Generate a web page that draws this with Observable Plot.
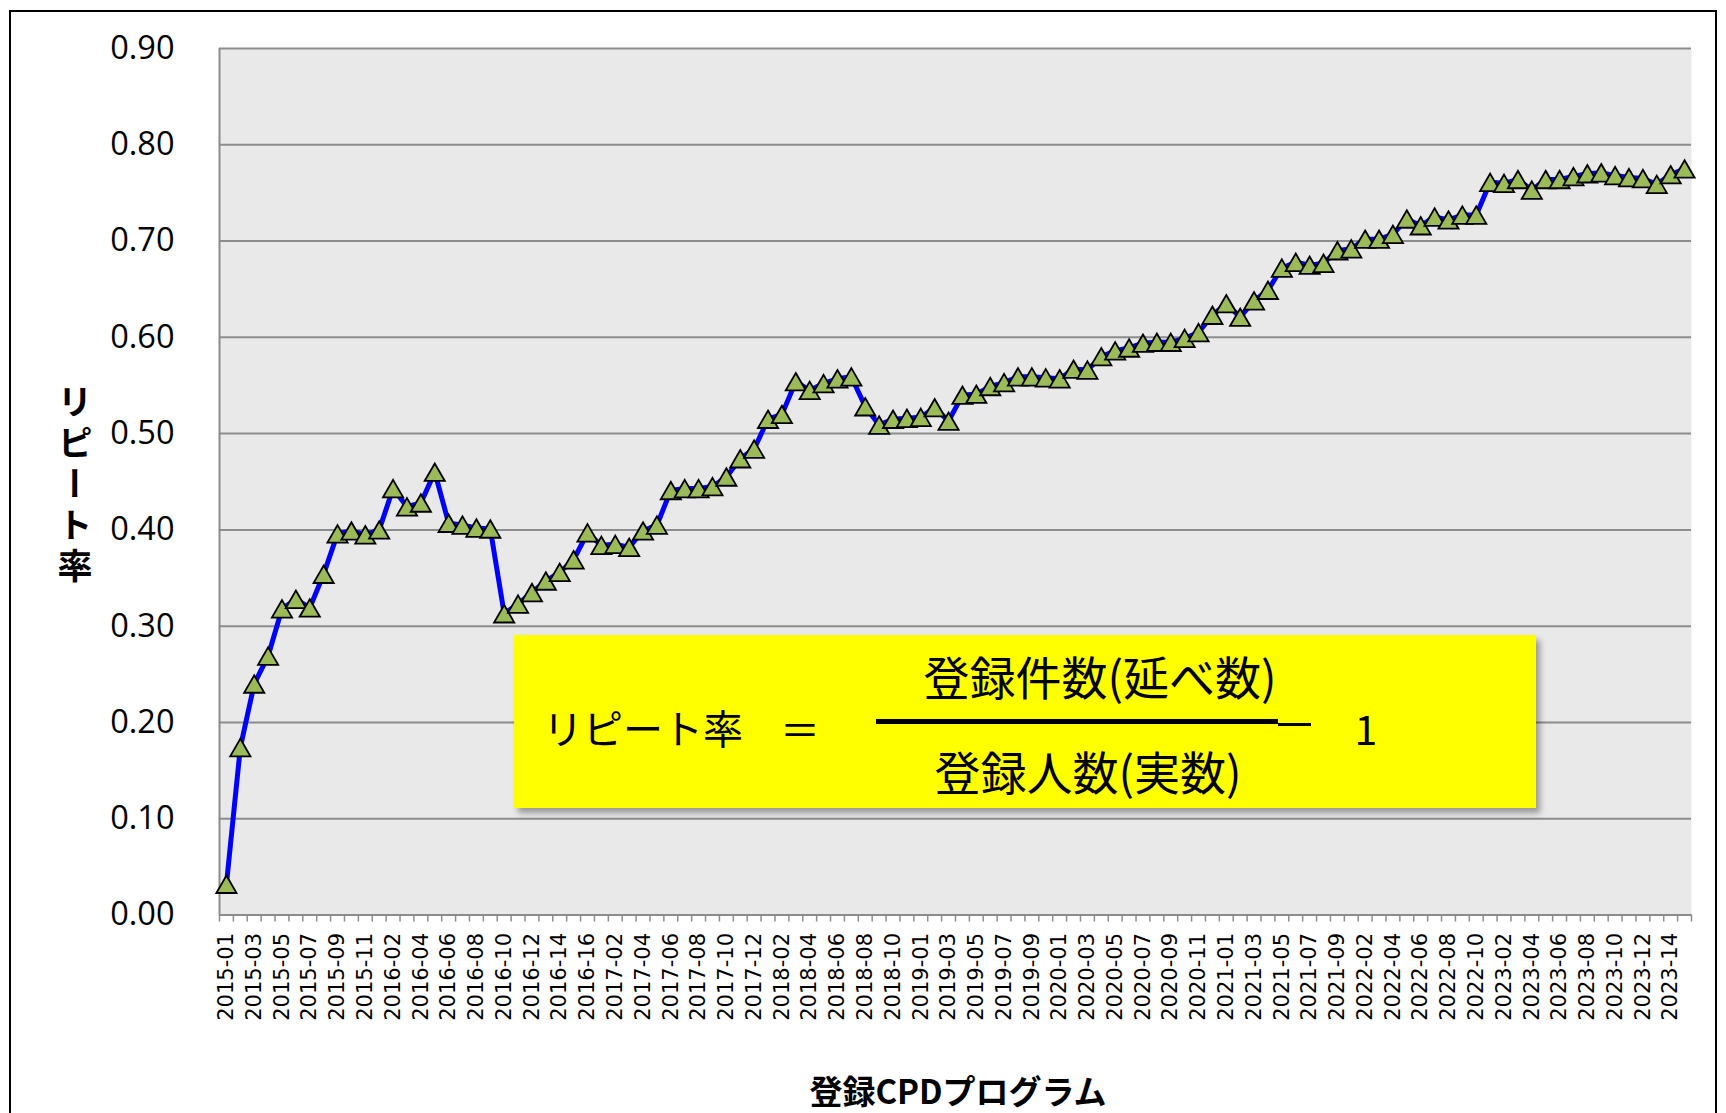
<!DOCTYPE html>
<html>
<head>
<meta charset="utf-8">
<script src="https://cdn.jsdelivr.net/npm/d3@7"></script>
<script src="https://cdn.jsdelivr.net/npm/@observablehq/plot@0.6"></script>
<style>
  html, body { margin: 0; padding: 0; background: #fff; overflow: hidden; }
  #page { position: relative; width: 1726px; height: 1113px; }
  #chart { position: absolute; left: 0; top: 0; }
  #border { position: absolute; left: 9px; top: 10px; width: 1708px; height: 1130px; border: 2px solid #000; box-sizing: border-box; }
  .t { position: absolute; transform: translate(-50%, -50%); white-space: nowrap; line-height: 1; color: #000; }
  #ytitle { position: absolute; left: 75px; top: 487px; transform: translate(-50%, -50%); writing-mode: vertical-rl; font-family: "Noto Sans CJK JP", sans-serif; font-weight: bold; font-size: 35px; letter-spacing: 6px; line-height: 1; }
  #xtitle { position: absolute; left: 958px; top: 1090px; transform: translate(-50%, -50%); font-family: "Noto Sans CJK JP", sans-serif; font-weight: bold; font-size: 33px; white-space: nowrap; line-height: 1; }
  #box { position: absolute; left: 514px; top: 635px; width: 1022px; height: 173px; background: #ffff00; box-shadow: 4px 5px 6px rgba(0,0,0,0.35); font-family: "Noto Sans CJK JP", sans-serif; }
  .bar { position: absolute; background: #000; }
</style>
</head>
<body>
<div id="page">
  <div id="border"></div>
  <div id="chart"></div>
  <div id="ytitle">リピート率</div>
  <div id="xtitle">登録CPDプログラム</div>
  <div id="box">
    <div class="t" style="left:129px; top:92px; font-size:40px;">リピート率</div>
    <div class="t" style="left:286px; top:93px; font-size:40px;">＝</div>
    <div class="bar" style="left:362px; top:84px; width:402px; height:5px;"></div>
    <div class="bar" style="left:764px; top:88px; width:33px; height:3px;"></div>
    <div class="t" style="left:852px; top:92px; font-size:41px;">1</div>
    <div class="t" style="left:586px; top:40px; font-size:46px;">登録件数(延べ数)</div>
    <div class="t" style="left:574px; top:135px; font-size:46px;">登録人数(実数)</div>
  </div>
</div>
<script>
// Categories (registered CPD programs)
const categories = [
  "2015-01","2015-02","2015-03","2015-04","2015-05","2015-06","2015-07","2015-08","2015-09","2015-10","2015-11",
  "2016-01","2016-02","2016-03","2016-04","2016-05","2016-06","2016-07","2016-08","2016-09","2016-10","2016-11","2016-12","2016-13","2016-14","2016-15","2016-16",
  "2017-01","2017-02","2017-03","2017-04","2017-05","2017-06","2017-07","2017-08","2017-09","2017-10","2017-11","2017-12",
  "2018-01","2018-02","2018-03","2018-04","2018-05","2018-06","2018-07","2018-08","2018-09","2018-10","2018-11",
  "2019-01","2019-02","2019-03","2019-04","2019-05","2019-06","2019-07","2019-08","2019-09","2019-10",
  "2020-01","2020-02","2020-03","2020-04","2020-05","2020-06","2020-07","2020-08","2020-09","2020-10","2020-11","2020-12",
  "2021-01","2021-02","2021-03","2021-04","2021-05","2021-06","2021-07","2021-08","2021-09",
  "2022-01","2022-02","2022-03","2022-04","2022-05","2022-06","2022-07","2022-08","2022-09","2022-10",
  "2023-01","2023-02","2023-03","2023-04","2023-05","2023-06","2023-07","2023-08","2023-09","2023-10","2023-11","2023-12","2023-13","2023-14","2023-15"
];

// Repeat rate values
const repeatRate = [
  0.032,0.174,0.240,0.269,0.318,0.328,0.319,0.354,0.396,0.399,0.395,
  0.400,0.443,0.424,0.428,0.460,0.407,0.405,0.402,0.401,0.313,0.323,0.335,0.347,0.356,0.369,0.397,
  0.384,0.385,0.382,0.399,0.405,0.441,0.443,0.443,0.445,0.455,0.474,0.484,
  0.515,0.520,0.554,0.545,0.552,0.557,0.559,0.528,0.509,0.515,0.516,
  0.517,0.527,0.513,0.540,0.541,0.549,0.553,0.559,0.559,0.558,
  0.557,0.567,0.566,0.580,0.586,0.589,0.594,0.595,0.595,0.599,0.605,0.623,
  0.635,0.621,0.638,0.649,0.672,0.678,0.675,0.677,0.690,
  0.692,0.702,0.702,0.707,0.723,0.716,0.725,0.722,0.727,0.727,
  0.761,0.760,0.764,0.753,0.764,0.764,0.767,0.770,0.771,0.768,0.766,0.765,0.759,0.769,0.775
];

// Y tick values
const yTicks = [0, 0.1, 0.2, 0.3, 0.4, 0.5, 0.6, 0.7, 0.8, 0.9];
// X tick labels shown (every other category)
const xLabelTicks = categories.filter((d, i) => i % 2 === 0);

const data = categories.map((c, i) => ({cat: c, rate: repeatRate[i]}));

const W = 1726, H = 1113;
const ml = 219, mr = 35, mt = 48, mb = H - 914.5;
const step = (W - ml - mr) / categories.length;
const gridColor = "#8c8c8c";

const chart = Plot.plot({
  width: W,
  height: H,
  marginLeft: ml,
  marginRight: mr,
  marginTop: mt,
  marginBottom: mb,
  style: {background: "transparent", overflow: "visible"},
  x: {type: "point", domain: categories, padding: 0.5, align: 0.5},
  y: {domain: [0, 0.9]},
  marks: [
    Plot.frame({fill: "#e9e9e9", stroke: "none"}),
    Plot.gridY(yTicks, {stroke: gridColor, strokeOpacity: 1, strokeWidth: 2}),
    Plot.ruleX([categories[0]], {dx: -step / 2, stroke: gridColor, strokeWidth: 2}),
    Plot.axisY(yTicks, {tickSize: 0, tickPadding: 45, tickFormat: d => d.toFixed(2), fontSize: 32.5, fontFamily: "Open Sans", fill: "#000", label: null}),
    Plot.axisX(categories, {tickSize: 7, stroke: gridColor, strokeWidth: 1.5, fill: "none", dx: -step / 2, label: null}),
    Plot.axisX([categories[categories.length - 1]], {tickSize: 7, stroke: gridColor, strokeWidth: 1.5, fill: "none", dx: step / 2, label: null}),
    Plot.axisX(xLabelTicks, {tickSize: 0, tickPadding: 18, tickRotate: -90, fontSize: 21, fontFamily: "DejaVu Sans", fill: "#000", label: null}),
    Plot.line(data, {x: "cat", y: "rate", stroke: "#0000ff", strokeWidth: 5}),
    Plot.dot(data, {x: "cat", y: "rate", symbol: "triangle", r: 7.5, fill: "#9bbb59", stroke: "#000", strokeWidth: 1.8, dy: 3})
  ]
});
document.getElementById("chart").appendChild(chart);
</script>
</body>
</html>
